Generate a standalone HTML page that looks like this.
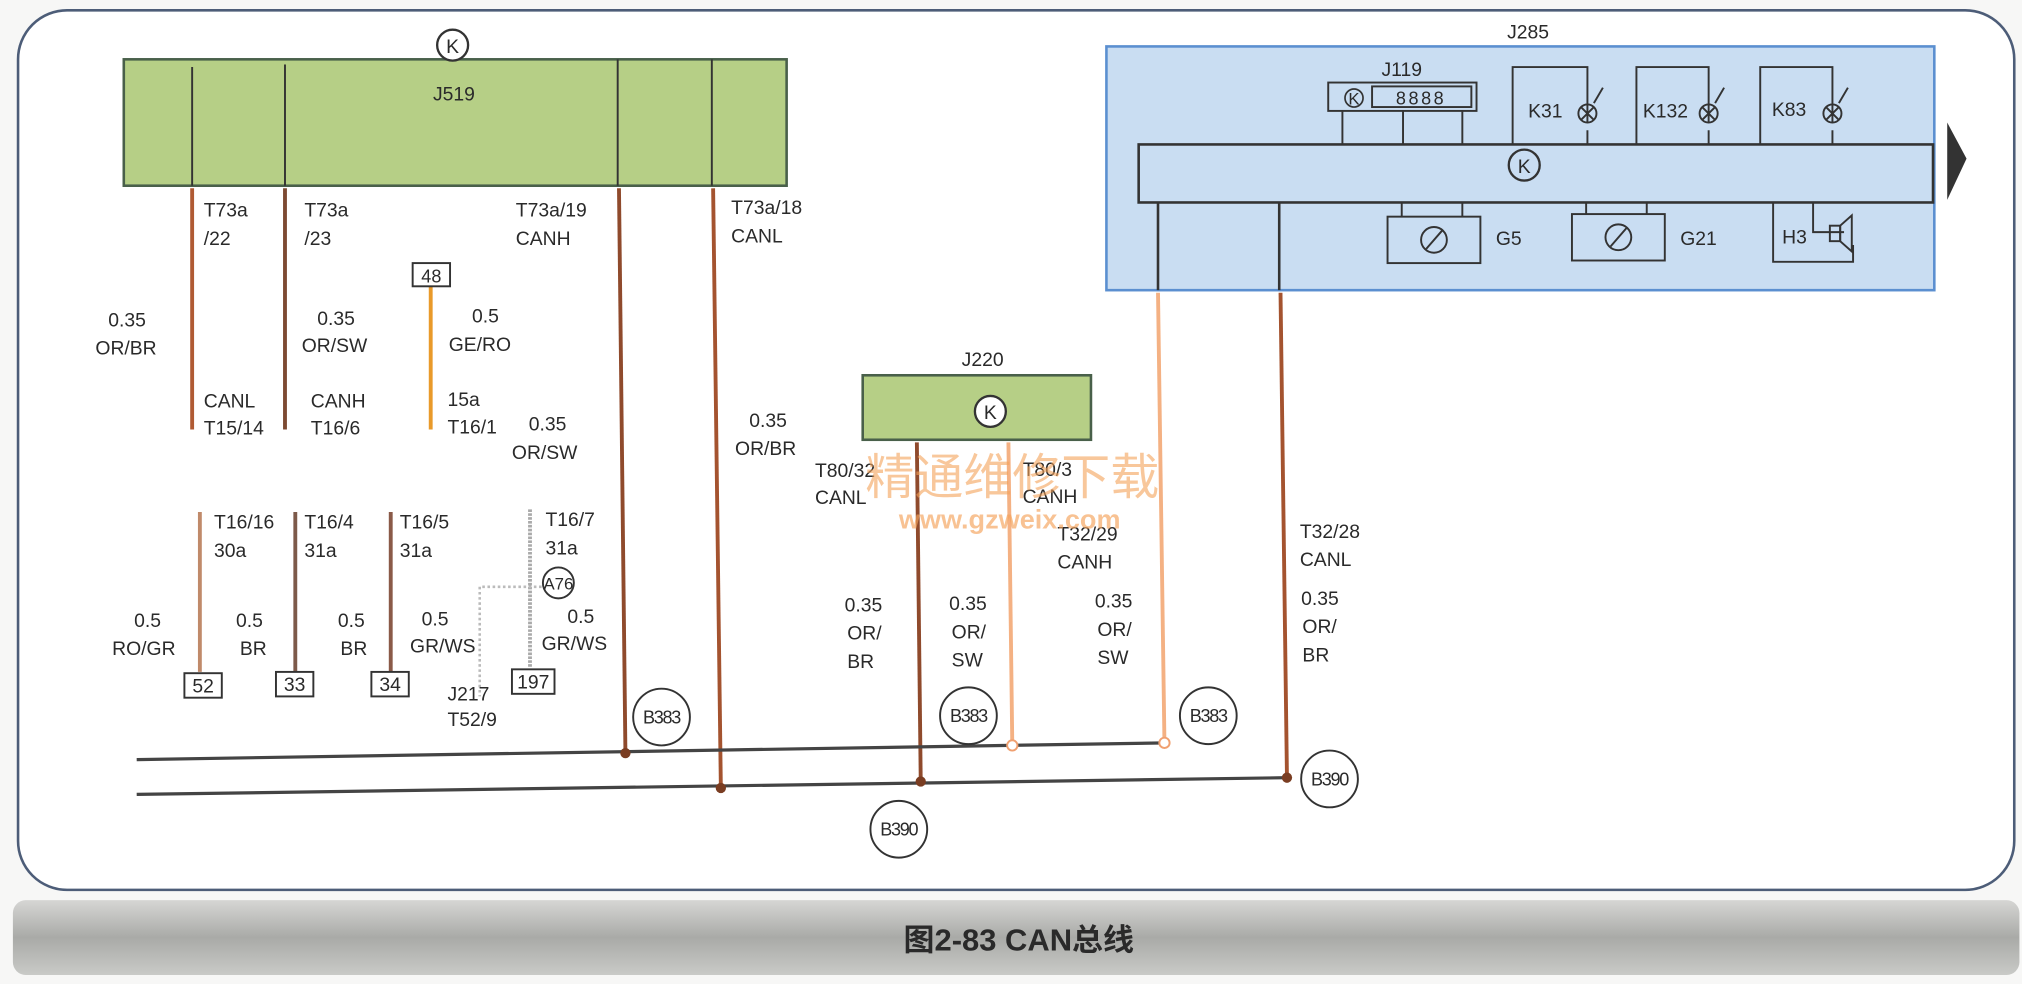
<!DOCTYPE html>
<html><head><meta charset="utf-8"><style>
html,body{margin:0;padding:0;background:#fff;}
svg{display:block;}
text{font-family:"Liberation Sans","Noto Sans CJK SC",sans-serif;fill:#2a2a2a;}
</style></head><body>
<svg width="2022" height="984" viewBox="0 0 1568 763" preserveAspectRatio="none" xmlns="http://www.w3.org/2000/svg">
<rect x="0" y="0" width="1568" height="763" fill="#f7f7f6"/>
<rect x="14" y="8" width="1548" height="682" rx="38" fill="#ffffff" stroke="#4d5d78" stroke-width="2"/>
<defs><linearGradient id="cap" x1="0" y1="0" x2="0" y2="1"><stop offset="0" stop-color="#d6d6d4"/><stop offset="0.5" stop-color="#a9aaa7"/><stop offset="1" stop-color="#c9cac7"/></linearGradient></defs>
<rect x="10" y="698" width="1556" height="58" rx="10" fill="url(#cap)"/>
<text x="790" y="737" font-size="24" font-weight="bold" text-anchor="middle" fill="#222">图2-83  CAN总线</text>

<!-- J519 -->
<rect x="96" y="46" width="514" height="98" fill="#b6cf86" stroke="#49604a" stroke-width="2"/>
<g stroke="#333" stroke-width="1.5"><line x1="149" y1="52" x2="149" y2="144"/><line x1="221" y1="50" x2="221" y2="144"/><line x1="479" y1="46" x2="479" y2="144"/><line x1="552" y1="46" x2="552" y2="144"/></g>
<circle cx="351" cy="35" r="12" fill="#fff" stroke="#333" stroke-width="1.8"/><text x="351" y="41" font-size="15" text-anchor="middle">K</text>
<text x="352" y="78" font-size="15" text-anchor="middle">J519</text>

<!-- J519 wires -->
<g stroke-width="3" fill="none">
<line x1="149" y1="146" x2="149" y2="333" stroke="#b05a33"/>
<line x1="221" y1="146" x2="221" y2="333" stroke="#7d4a32"/>
<line x1="334" y1="222" x2="334" y2="333" stroke="#e99a2a"/>
<line x1="480" y1="146" x2="485" y2="584" stroke="#8f4a2c"/>
<line x1="553" y1="146" x2="559" y2="611" stroke="#a4532f"/>
</g>
<rect x="320" y="204" width="29" height="18" fill="#fff" stroke="#333" stroke-width="1.5"/><text x="334.5" y="219" font-size="14" text-anchor="middle">48</text>
<g font-size="15">
<text x="158" y="168">T73a</text><text x="158" y="190">/22</text>
<text x="236" y="168">T73a</text><text x="236" y="190">/23</text>
<text x="400" y="168">T73a/19</text><text x="400" y="190">CANH</text>
<text x="567" y="166">T73a/18</text><text x="567" y="188">CANL</text>
<text x="84" y="253">0.35</text><text x="74" y="275">OR/BR</text>
<text x="246" y="252">0.35</text><text x="234" y="273">OR/SW</text>
<text x="366" y="250">0.5</text><text x="348" y="272">GE/RO</text>
<text x="158" y="316">CANL</text><text x="158" y="337">T15/14</text>
<text x="241" y="316">CANH</text><text x="241" y="337">T16/6</text>
<text x="347" y="315">15a</text><text x="347" y="336">T16/1</text>
<text x="410" y="334">0.35</text><text x="397" y="356">OR/SW</text>
<text x="581" y="331">0.35</text><text x="570" y="353">OR/BR</text>
</g>

<!-- lower left stubs -->
<g stroke-width="3">
<line x1="155" y1="397" x2="155" y2="521" stroke="#c08a6a"/>
<line x1="229" y1="397" x2="229" y2="521" stroke="#7d5a4a"/>
<line x1="303" y1="397" x2="303" y2="521" stroke="#8a5a48"/>
</g>
<line x1="411" y1="395" x2="411" y2="518" stroke="#aaa" stroke-width="3" stroke-dasharray="2 1"/>
<polyline points="432,455 372,455 372,540" fill="none" stroke="#bbb" stroke-width="2" stroke-dasharray="2 2"/>
<g fill="#fff" stroke="#333" stroke-width="1.5">
<rect x="143" y="522" width="29" height="19"/><rect x="214" y="521" width="29" height="19"/><rect x="288" y="521" width="29" height="19"/><rect x="397" y="519" width="33" height="19"/>
</g>
<g font-size="15">
<text x="157.5" y="537" text-anchor="middle">52</text><text x="228.5" y="536" text-anchor="middle">33</text><text x="302.5" y="536" text-anchor="middle">34</text><text x="413.5" y="534" text-anchor="middle">197</text>
<text x="166" y="410">T16/16</text><text x="166" y="432">30a</text>
<text x="236" y="410">T16/4</text><text x="236" y="432">31a</text>
<text x="310" y="410">T16/5</text><text x="310" y="432">31a</text>
<text x="423" y="408">T16/7</text><text x="423" y="430">31a</text>
<text x="104" y="486">0.5</text><text x="87" y="508">RO/GR</text>
<text x="183" y="486">0.5</text><text x="186" y="508">BR</text>
<text x="262" y="486">0.5</text><text x="264" y="508">BR</text>
<text x="327" y="485">0.5</text><text x="318" y="506">GR/WS</text>
<text x="440" y="483">0.5</text><text x="420" y="504">GR/WS</text>
<text x="347" y="543">J217</text><text x="347" y="563">T52/9</text>
</g>
<circle cx="433" cy="452" r="12" fill="#fff" stroke="#333" stroke-width="1.5"/><text x="433" y="457" font-size="13" text-anchor="middle">A76</text>

<!-- J220 -->
<rect x="669" y="291" width="177" height="50" fill="#b6cf86" stroke="#49604a" stroke-width="2"/>
<circle cx="768" cy="319" r="12" fill="#fff" stroke="#333" stroke-width="1.8"/><text x="768" y="325" font-size="15" text-anchor="middle">K</text>
<text x="762" y="284" font-size="15" text-anchor="middle">J220</text>
<line x1="711" y1="343" x2="714" y2="606" stroke="#8f4a2c" stroke-width="3"/>
<line x1="782" y1="343" x2="785" y2="578" stroke="#f4b183" stroke-width="3"/>

<!-- J285 -->
<rect x="858" y="36" width="642" height="189" fill="#c9ddf2" stroke="#5b8fd0" stroke-width="2"/>
<rect x="883" y="112" width="616" height="45" fill="#c9ddf2" stroke="#333" stroke-width="2"/>
<circle cx="1182" cy="128" r="12" fill="none" stroke="#333" stroke-width="1.8"/><text x="1182" y="134" font-size="15" text-anchor="middle">K</text>
<text x="1185" y="30" font-size="15" text-anchor="middle">J285</text>
<polygon points="1510,95 1525,123 1510,155" fill="#333"/>
<g fill="none" stroke="#333" stroke-width="1.5">
<rect x="1030" y="64" width="115" height="22"/><rect x="1064" y="67" width="77" height="16"/>
<line x1="1041" y1="86" x2="1041" y2="112"/><line x1="1088" y1="86" x2="1088" y2="112"/><line x1="1134" y1="86" x2="1134" y2="112"/>
<polyline points="1173,112 1173,52 1231,52 1231,95"/><polyline points="1269,112 1269,52 1325,52 1325,95"/><polyline points="1365,112 1365,52 1421,52 1421,95"/>
<line x1="1231" y1="101" x2="1231" y2="112"/><line x1="1325" y1="101" x2="1325" y2="112"/><line x1="1421" y1="101" x2="1421" y2="112"/>
<circle cx="1231" cy="88" r="7"/><circle cx="1325" cy="88" r="7"/><circle cx="1421" cy="88" r="7"/>
<line x1="1226" y1="83" x2="1236" y2="93"/><line x1="1236" y1="83" x2="1226" y2="93"/>
<line x1="1320" y1="83" x2="1330" y2="93"/><line x1="1330" y1="83" x2="1320" y2="93"/>
<line x1="1416" y1="83" x2="1426" y2="93"/><line x1="1426" y1="83" x2="1416" y2="93"/>
<line x1="1236" y1="80" x2="1243" y2="68"/><line x1="1330" y1="80" x2="1337" y2="68"/><line x1="1426" y1="80" x2="1433" y2="68"/>
<line x1="1087" y1="157" x2="1087" y2="168"/><line x1="1134" y1="157" x2="1134" y2="168"/><rect x="1076" y="168" width="72" height="36"/>
<line x1="1230" y1="157" x2="1230" y2="166"/><line x1="1277" y1="157" x2="1277" y2="166"/><rect x="1219" y="166" width="72" height="36"/>
<polyline points="1406,157 1406,180 1430,180"/><polyline points="1375,157 1375,203 1437,203 1437,190"/><rect x="1419" y="175" width="8" height="12"/><polygon points="1427,175 1436,167 1436,195 1427,187"/>
<circle cx="1112" cy="186" r="10"/><line x1="1106" y1="193" x2="1119" y2="178"/>
<circle cx="1255" cy="184" r="10"/><line x1="1249" y1="191" x2="1262" y2="176"/>
<line x1="898" y1="157" x2="898" y2="225" stroke-width="2"/><line x1="992" y1="157" x2="992" y2="225" stroke-width="2"/>
</g>
<g font-size="15">
<text x="1087" y="59" text-anchor="middle">J119</text>
<text x="1050" y="81" font-size="13" text-anchor="middle">K</text><circle cx="1050" cy="76" r="7" fill="none" stroke="#333" stroke-width="1.3"/>
<text x="1102" y="81" font-size="14" text-anchor="middle" letter-spacing="2">8888</text>
<text x="1185" y="91">K31</text><text x="1274" y="91">K132</text><text x="1374" y="90">K83</text>
<text x="1160" y="190">G5</text><text x="1303" y="190">G21</text><text x="1382" y="189">H3</text>
</g>
<line x1="898" y1="227" x2="903" y2="576" stroke="#f4b183" stroke-width="3"/>
<line x1="993" y1="227" x2="998" y2="603" stroke="#a4532f" stroke-width="3"/>
<g font-size="15">
<text x="632" y="370">T80/32</text><text x="632" y="391">CANL</text>
<text x="793" y="369">T80/3</text><text x="793" y="390">CANH</text>
<text x="820" y="419">T32/29</text><text x="820" y="441">CANH</text>
<text x="1008" y="417">T32/28</text><text x="1008" y="439">CANL</text>
<text x="655" y="474">0.35</text><text x="657" y="496">OR/</text><text x="657" y="518">BR</text>
<text x="736" y="473">0.35</text><text x="738" y="495">OR/</text><text x="738" y="517">SW</text>
<text x="849" y="471">0.35</text><text x="851" y="493">OR/</text><text x="851" y="515">SW</text>
<text x="1009" y="469">0.35</text><text x="1010" y="491">OR/</text><text x="1010" y="513">BR</text>
</g>
<text x="785" y="383" font-size="38" style="fill:#f5a35a;opacity:0.6" text-anchor="middle">精通维修下载</text>
<text x="783" y="410" font-size="21" font-weight="bold" style="fill:#f5a35a;opacity:0.65" text-anchor="middle">www.gzweix.com</text>

<!-- bus lines -->
<line x1="106" y1="589" x2="905" y2="576" stroke="#444" stroke-width="2.5"/>
<line x1="106" y1="616" x2="1000" y2="603" stroke="#444" stroke-width="2.5"/>
<g fill="#7a3d22"><circle cx="485" cy="584" r="4"/><circle cx="559" cy="611" r="4"/><circle cx="714" cy="606" r="4"/><circle cx="998" cy="603" r="4"/></g>
<g fill="#fff" stroke="#f0a070" stroke-width="1.5"><circle cx="785" cy="578" r="4"/><circle cx="903" cy="576" r="4"/></g>
<g fill="#fff" stroke="#333" stroke-width="1.5">
<circle cx="513" cy="556" r="22"/><circle cx="751" cy="555" r="22"/><circle cx="937" cy="555" r="22"/><circle cx="697" cy="643" r="22"/><circle cx="1031" cy="604" r="22"/>
</g>
<g font-size="14" text-anchor="middle" letter-spacing="-1">
<text x="513" y="561">B383</text><text x="751" y="560">B383</text><text x="937" y="560">B383</text><text x="697" y="648">B390</text><text x="1031" y="609">B390</text>
</g>
</svg>
</body></html>
